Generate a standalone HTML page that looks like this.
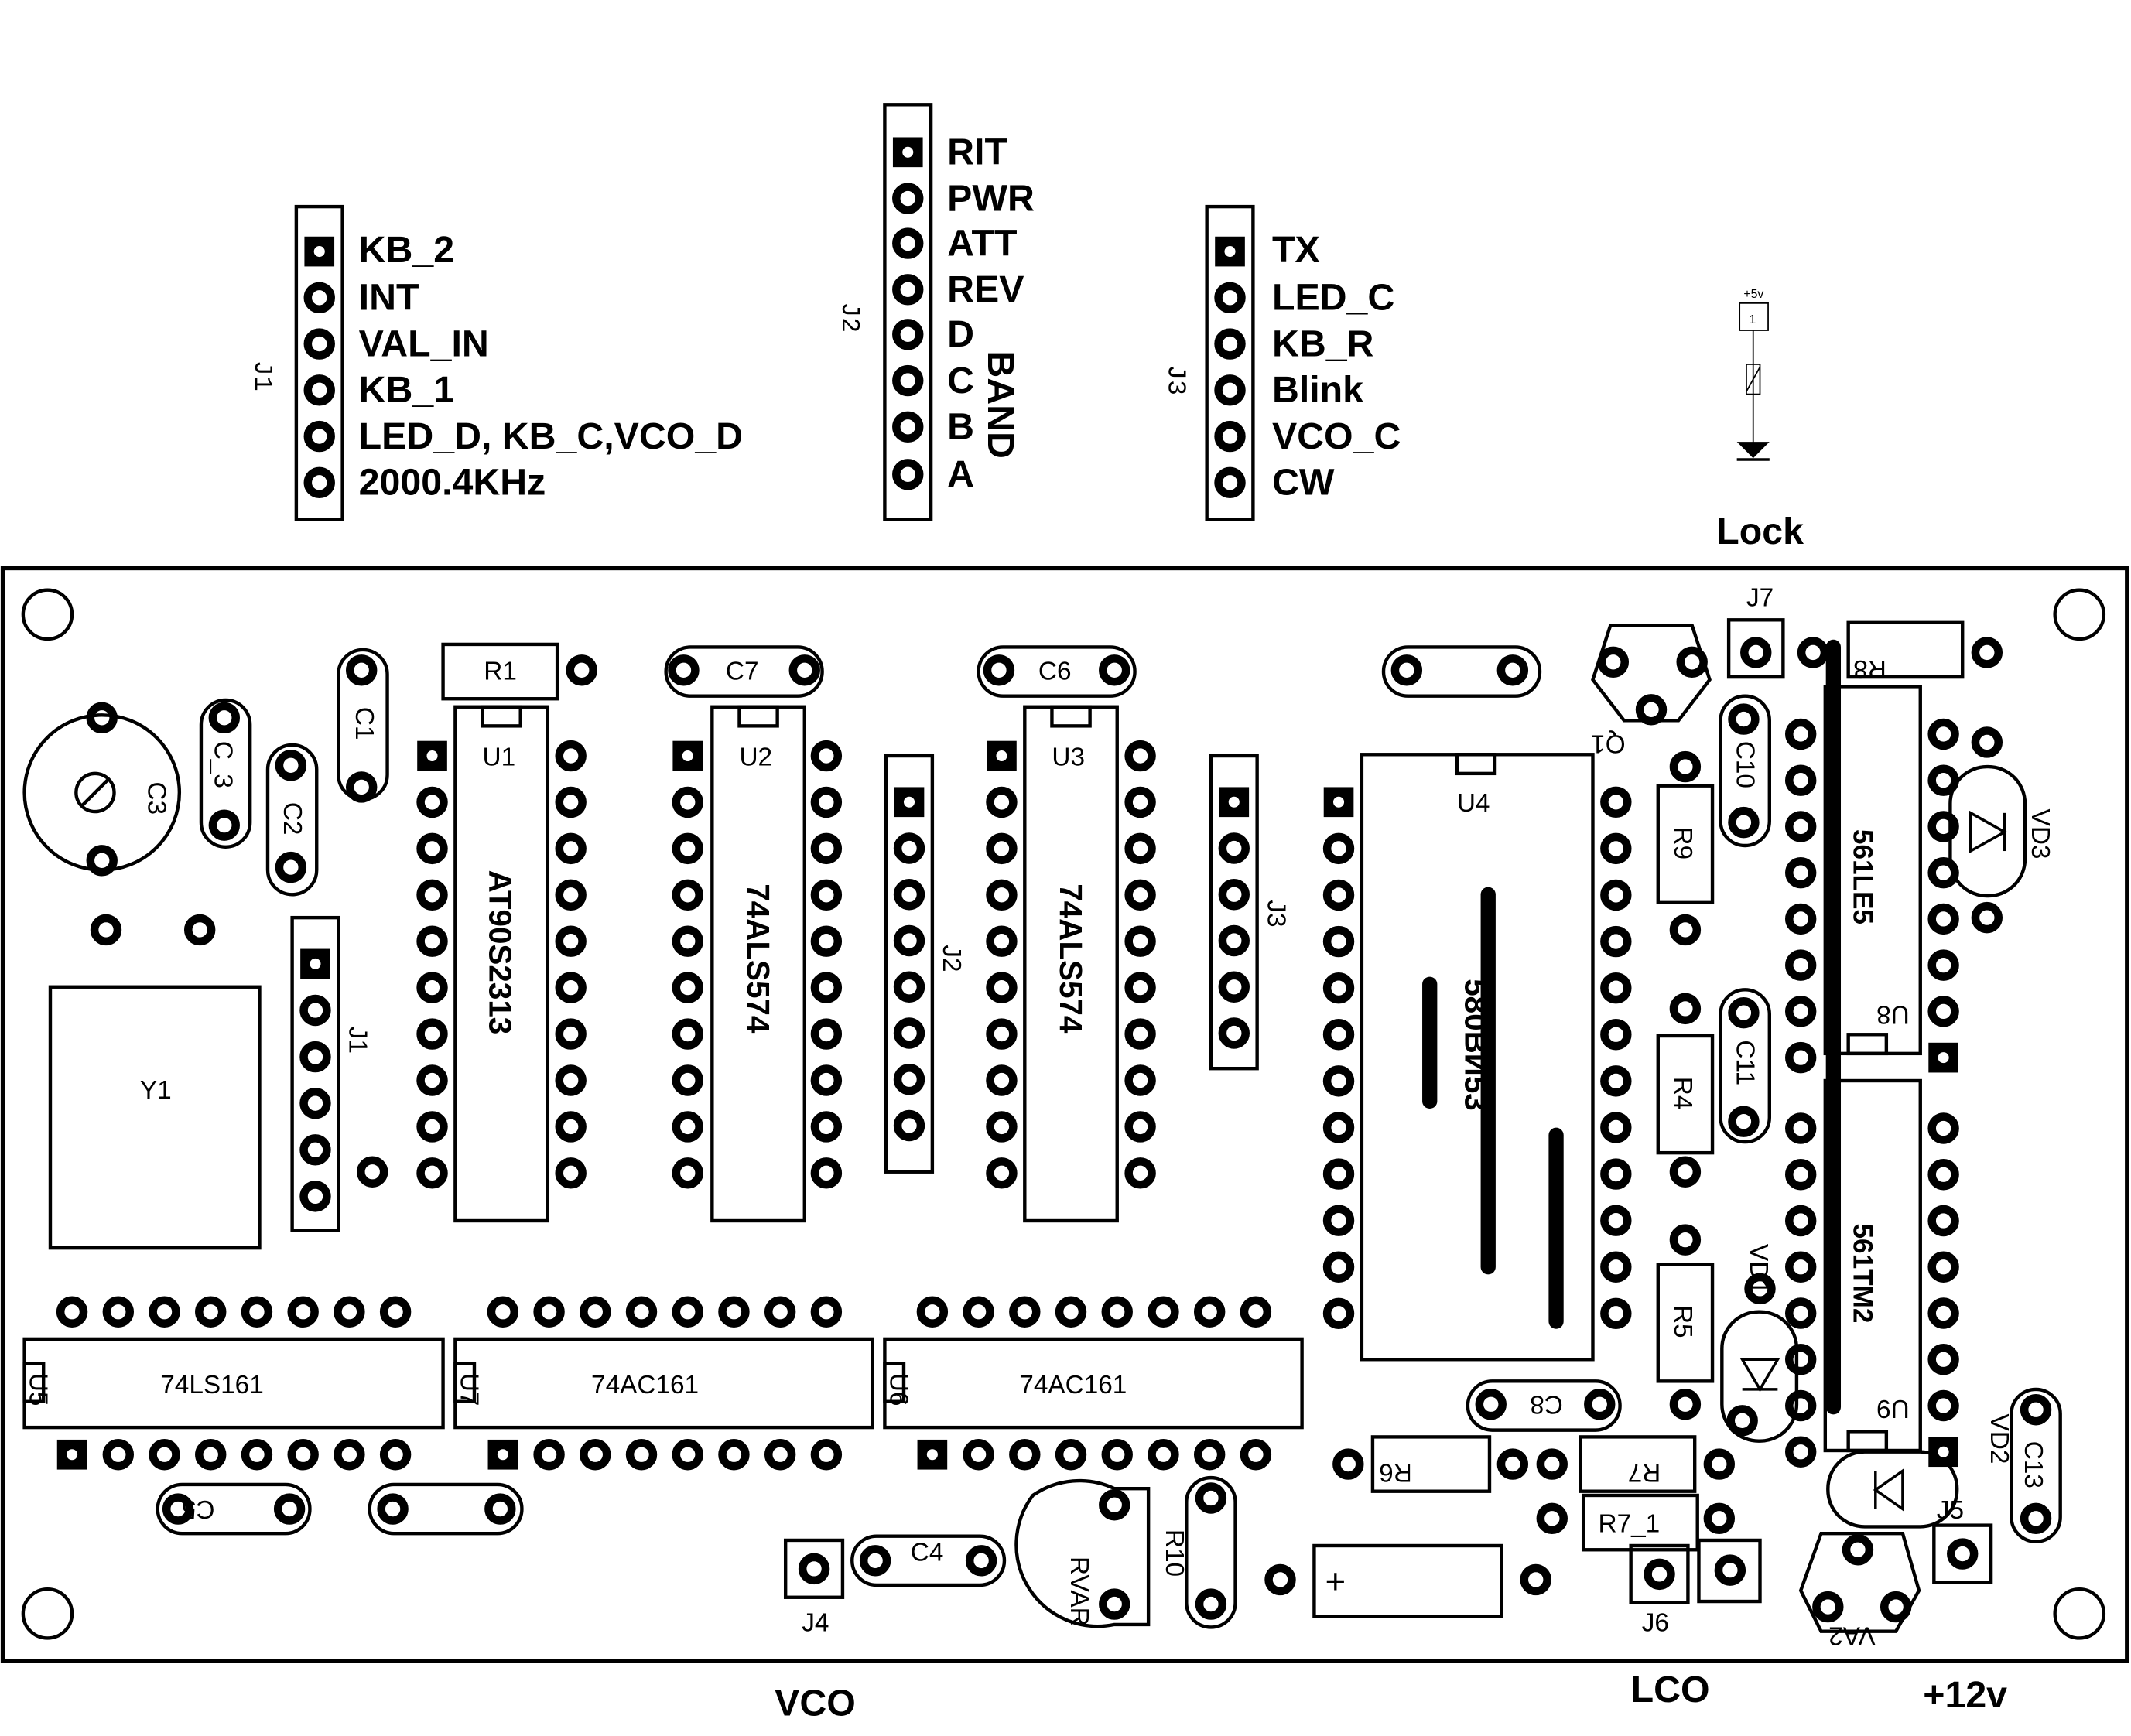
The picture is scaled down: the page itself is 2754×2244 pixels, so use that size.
<!DOCTYPE html>
<html><head><meta charset="utf-8"><style>
html,body{margin:0;padding:0;background:#fff}
svg{display:block}
text{font-family:"Liberation Sans",sans-serif;fill:#000}
.b{font-weight:bold;font-size:27.5px}
.m{font-family:"Liberation Mono",monospace;font-size:19px}
.ic{font-family:"Liberation Sans",sans-serif;font-weight:bold;font-size:23px}
</style></head><body>
<svg width="2754" height="2244" viewBox="0 0 1568 1277" preserveAspectRatio="none" xmlns="http://www.w3.org/2000/svg">
<defs>
<g id="p"><circle r="8.5" fill="none" stroke="#000" stroke-width="6"/></g>
<g id="s"><rect x="-11" y="-11" width="22" height="22" fill="#000"/><circle r="4" fill="#fff"/></g>
</defs>
<g fill="none" stroke="#000" stroke-width="2.5">
<rect x="218" y="152" width="34" height="230"/>
<rect x="651" y="77" width="34" height="305"/>
<rect x="888" y="152" width="34" height="230"/>
<rect x="2" y="418" width="1563" height="804" stroke-width="3"/>
<circle cx="35" cy="452" r="18"/><circle cx="1530" cy="452" r="18"/>
<circle cx="35" cy="1187" r="18"/><circle cx="1530" cy="1187" r="18"/>
<rect x="335" y="520" width="68" height="378"/><rect x="355" y="520" width="28" height="14"/>
<rect x="524" y="520" width="68" height="378"/><rect x="544" y="520" width="28" height="14"/>
<rect x="754" y="520" width="68" height="378"/><rect x="774" y="520" width="28" height="14"/>
<rect x="1002" y="555" width="170" height="445"/><rect x="1072" y="555" width="28" height="14"/>
<rect x="18" y="985" width="308" height="65"/><rect x="18" y="1003" width="14" height="28"/>
<rect x="335" y="985" width="307" height="65"/><rect x="335" y="1003" width="14" height="28"/>
<rect x="651" y="985" width="307" height="65"/><rect x="651" y="1003" width="14" height="28"/>
<rect x="1343" y="505" width="70" height="270"/><rect x="1360" y="761" width="28" height="14"/>
<rect x="1343" y="795" width="70" height="272"/><rect x="1360" y="1053" width="28" height="14"/>
<rect x="652" y="556" width="34" height="306"/>
<rect x="891" y="556" width="34" height="230"/>
<rect x="215" y="675" width="34" height="230"/>
<rect x="37" y="726" width="154" height="192"/>
<circle cx="75" cy="583" r="57"/>
<circle cx="70" cy="583" r="14"/><line x1="60" y1="593" x2="80" y2="573"/>
<rect x="326" y="474" width="84" height="40"/>
<rect x="1360" y="458" width="84" height="40"/>
<rect x="1220" y="578" width="40" height="86"/>
<rect x="1220" y="762" width="40" height="86"/>
<rect x="1220" y="930" width="40" height="86"/>
<rect x="1010" y="1057" width="86" height="40"/>
<rect x="1163" y="1057" width="84" height="40"/>
<rect x="1165" y="1100" width="84" height="40"/>
<rect x="967" y="1137" width="138" height="52"/>
<rect x="490" y="476" width="115" height="36" rx="18"/>
<rect x="720" y="476" width="115" height="36" rx="18"/>
<rect x="1018" y="476" width="115" height="36" rx="18"/>
<rect x="1080" y="1016" width="112" height="36" rx="18"/>
<rect x="116" y="1092" width="112" height="36" rx="18"/>
<rect x="272" y="1092" width="112" height="36" rx="18"/>
<rect x="627" y="1130" width="112" height="36" rx="18"/>
<rect x="249" y="478" width="36" height="110" rx="18"/>
<rect x="148" y="515" width="36" height="108" rx="18"/>
<rect x="197" y="548" width="36" height="110" rx="18"/>
<rect x="1266" y="512" width="36" height="110" rx="18"/>
<rect x="1266" y="728" width="36" height="112" rx="18"/>
<rect x="1480" y="1022" width="36" height="112" rx="18"/>
<rect x="873" y="1087" width="36" height="110" rx="18"/>
<rect x="1435" y="564" width="55" height="95" rx="27"/>
<rect x="1267" y="965" width="55" height="95" rx="27"/>
<rect x="1345" y="1068" width="95" height="55" rx="27"/>
<polygon points="1185,460 1245,460 1258,500 1235,530 1195,530 1172,500"/>
<polygon points="1340,1128 1400,1128 1412,1170 1395,1200 1340,1200 1325,1170"/>
<path d="M760,1100 A60,60 0 0,1 820,1095 L845,1095 L845,1195 L820,1195 A60,60 0 0,1 760,1100Z"/>
<rect x="1272" y="456" width="40" height="42"/>
<rect x="1423" y="1122" width="42" height="42"/>
<rect x="1200" y="1137" width="42" height="42"/>
<rect x="1250" y="1133" width="45" height="45"/>
<rect x="578" y="1133" width="42" height="42"/>
<rect x="1280" y="223" width="21" height="20" stroke-width="1"/>
<line x1="1290" y1="243" x2="1290" y2="326" stroke-width="1"/>
<rect x="1285" y="268" width="10" height="22" stroke-width="1"/>
<line x1="1285" y1="288" x2="1295" y2="270" stroke-width="1"/>
</g>
<polygon points="1278,325 1302,325 1290,337" fill="#000"/>
<line x1="1278" y1="338" x2="1302" y2="338" stroke="#000" stroke-width="2"/>
<text x="1283" y="219" font-size="9">+5v</text><text x="1287" y="238" font-size="9">1</text>
<g stroke="#000" stroke-width="11" stroke-linecap="round">
<line x1="1095" y1="658" x2="1095" y2="932"/>
<line x1="1052" y1="724" x2="1052" y2="810"/>
<line x1="1145" y1="835" x2="1145" y2="972"/>
<line x1="1349" y1="476" x2="1349" y2="1035"/>
</g>
<g fill="none" stroke="#000" stroke-width="2">
<polygon points="1450,598 1475,612 1450,626"/><line x1="1475" y1="598" x2="1475" y2="626"/>
<polygon points="1282,1000 1308,1000 1295,1022"/><line x1="1282" y1="1022" x2="1308" y2="1022"/>
<polygon points="1400,1082 1380,1096 1400,1110"/><line x1="1380" y1="1082" x2="1380" y2="1110"/>
</g>
<g>
<use href="#s" x="235" y="185"/><use href="#p" x="235" y="219"/><use href="#p" x="235" y="253"/><use href="#p" x="235" y="287"/><use href="#p" x="235" y="321"/><use href="#p" x="235" y="355"/>
<use href="#s" x="668" y="112"/><use href="#p" x="668" y="146"/><use href="#p" x="668" y="179"/><use href="#p" x="668" y="213"/><use href="#p" x="668" y="246"/><use href="#p" x="668" y="280"/><use href="#p" x="668" y="314"/><use href="#p" x="668" y="349"/>
<use href="#s" x="905" y="185"/><use href="#p" x="905" y="219"/><use href="#p" x="905" y="253"/><use href="#p" x="905" y="287"/><use href="#p" x="905" y="321"/><use href="#p" x="905" y="355"/>
</g>
<g id="dips"></g>
<script>
(function(){
var g=document.getElementById('dips'),NS='http://www.w3.org/2000/svg';
function u(t,x,y){var e=document.createElementNS(NS,'use');e.setAttribute('href','#'+t);e.setAttribute('x',x);e.setAttribute('y',y);g.appendChild(e);}
[[318,420],[506,608],[737,839]].forEach(function(c){for(var i=0;i<10;i++){var y=556+i*34.1;u(i==0?'s':'p',c[0],y);u('p',c[1],y);}});
for(var i=0;i<12;i++){var y=590+i*34.2;u(i==0?'s':'p',985,y);u('p',1189,y);}
[53,370,686].forEach(function(x0){for(var i=0;i<8;i++){var x=x0+i*34;u('p',x,965);u(i==0?'s':'p',x,1070);}});
for(var i=0;i<8;i++)u(i==0?'s':'p',669,590+i*34);
for(var i=0;i<6;i++)u(i==0?'s':'p',908,590+i*34);
for(var i=0;i<6;i++)u(i==0?'s':'p',232,709+i*34.2);
for(var i=0;i<8;i++){u('p',1325,540+i*34);u(i==7?'s':'p',1430,540+i*34);}
for(var i=0;i<8;i++){u('p',1325,830+i*34);u(i==7?'s':'p',1430,830+i*34);}
[[428,493],[503,493],[592,493],[735,493],[820,493],[1035,493],[1113,493],[1187,487],[1245,487],[1215,522],[1292,480],[1334,480],[1462,480],[1283,529],[1283,605],[1240,564],[1240,684],[1240,742],[1240,862],[1240,912],[1240,1033],[1283,745],[1283,825],[1295,948],[1462,546],[1462,675],[266,493],[266,579],[165,528],[165,607],[214,563],[214,638],[75,528],[75,633],[78,684],[147,684],[274,862],[131,1110],[213,1110],[289,1110],[368,1110],[644,1148],[722,1148],[599,1154],[820,1107],[820,1180],[891,1102],[891,1180],[942,1162],[1130,1162],[1097,1033],[1177,1033],[992,1077],[1113,1077],[1142,1077],[1265,1077],[1142,1117],[1265,1117],[1221,1158],[1273,1155],[1444,1143],[1367,1140],[1345,1182],[1395,1182],[1498,1037],[1498,1117],[1282,1045]].forEach(function(p){u('p',p[0],p[1]);});
})();
</script>
<g>
<text x="264" y="193" class="b">KB_2</text><text x="264" y="228" class="b">INT</text><text x="264" y="262" class="b">VAL_IN</text><text x="264" y="296" class="b">KB_1</text><text x="264" y="330" class="b">LED_D, KB_C,VCO_D</text><text x="264" y="364" class="b">2000.4KHz</text>
<text x="697" y="121" class="b">RIT</text><text x="697" y="155" class="b">PWR</text><text x="697" y="188" class="b">ATT</text><text x="697" y="222" class="b">REV</text><text x="697" y="255" class="b">D</text><text x="697" y="289" class="b">C</text><text x="697" y="323" class="b">B</text><text x="697" y="358" class="b">A</text>
<text x="936" y="193" class="b">TX</text><text x="936" y="228" class="b">LED_C</text><text x="936" y="262" class="b">KB_R</text><text x="936" y="296" class="b">Blink</text><text x="936" y="330" class="b">VCO_C</text><text x="936" y="364" class="b">CW</text>
<text x="1263" y="400" class="b">Lock</text><text x="570" y="1262" class="b">VCO</text><text x="1200" y="1252" class="b">LCO</text><text x="1415" y="1256" class="b">+12v</text>
</g>
<text class="b" transform="translate(727,258) rotate(90)">BAND</text>
<text class="m" transform="translate(188,265) rotate(90)">J1</text>
<text class="m" transform="translate(620,222) rotate(90)">J2</text>
<text class="m" transform="translate(860,268) rotate(90)">J3</text>
<g class="m">
<text x="356" y="500">R1</text><text x="355" y="563">U1</text><text x="544" y="563">U2</text><text x="774" y="563">U3</text><text x="1072" y="597">U4</text>
<text x="534" y="500">C7</text><text x="764" y="500">C6</text><text x="103" y="808">Y1</text>
<text x="118" y="1025">74LS161</text><text x="435" y="1025">74AC161</text><text x="750" y="1025">74AC161</text>
<text x="670" y="1148">C4</text><text x="590" y="1200">J4</text><text x="1208" y="1200">J6</text><text x="1285" y="446">J7</text>
<text x="1425" y="1117">J5</text><text x="1176" y="1127">R7_1</text>
</g>
<g class="m">
<text transform="translate(1388,486) rotate(180)">R8</text>
<text transform="translate(1196,541) rotate(180)">Q1</text>
<text transform="translate(1039,1077) rotate(180)">R6</text>
<text transform="translate(1222,1077) rotate(180)">R7</text>
<text transform="translate(1150,1027) rotate(180)">C8</text>
<text transform="translate(158,1104) rotate(180)">C5</text>
<text transform="translate(1380,1197) rotate(180)">VA2</text>
<text transform="translate(1405,740) rotate(180)">U8</text>
<text transform="translate(1405,1030) rotate(180)">U9</text>
<text transform="translate(262,520) rotate(90)">C1</text>
<text transform="translate(158,545) rotate(90)">C_3</text>
<text transform="translate(109,575) rotate(90)">C3</text>
<text transform="translate(209,590) rotate(90)">C2</text>
<text transform="translate(257,755) rotate(90)">J1</text>
<text transform="translate(694,695) rotate(90)">J2</text>
<text transform="translate(933,662) rotate(90)">J3</text>
<text transform="translate(1232,608) rotate(90)">R9</text>
<text transform="translate(1232,792) rotate(90)">R4</text>
<text transform="translate(1232,960) rotate(90)">R5</text>
<text transform="translate(1278,545) rotate(90)">C10</text>
<text transform="translate(1278,765) rotate(90)">C11</text>
<text transform="translate(1490,1060) rotate(90)">C13</text>
<text transform="translate(1495,595) rotate(90)">VD3</text>
<text transform="translate(1288,915) rotate(90)">VD1</text>
<text transform="translate(1465,1040) rotate(90)">VD2</text>
<text transform="translate(858,1125) rotate(90)">R10</text>
<text transform="translate(788,1145) rotate(90)">RVAR</text>
<text transform="translate(22,1010) rotate(90)">U5</text>
<text transform="translate(339,1010) rotate(90)">U7</text>
<text transform="translate(655,1010) rotate(90)">U6</text>
</g>
<text class="ic" transform="translate(360,640) rotate(90)">AT90S2313</text>
<text class="ic" transform="translate(550,650) rotate(90)">74ALS574</text>
<text class="ic" transform="translate(780,650) rotate(90)">74ALS574</text>
<text class="ic" transform="translate(1078,720) rotate(90)">580ВИ53</text>
<text class="ic" transform="translate(1364,610) rotate(90)" style="font-size:20px">561LE5</text>
<text class="ic" transform="translate(1364,900) rotate(90)" style="font-size:20px">561TM2</text>
<text x="975" y="1172" font-size="26">+</text>
</svg>
</body></html>
